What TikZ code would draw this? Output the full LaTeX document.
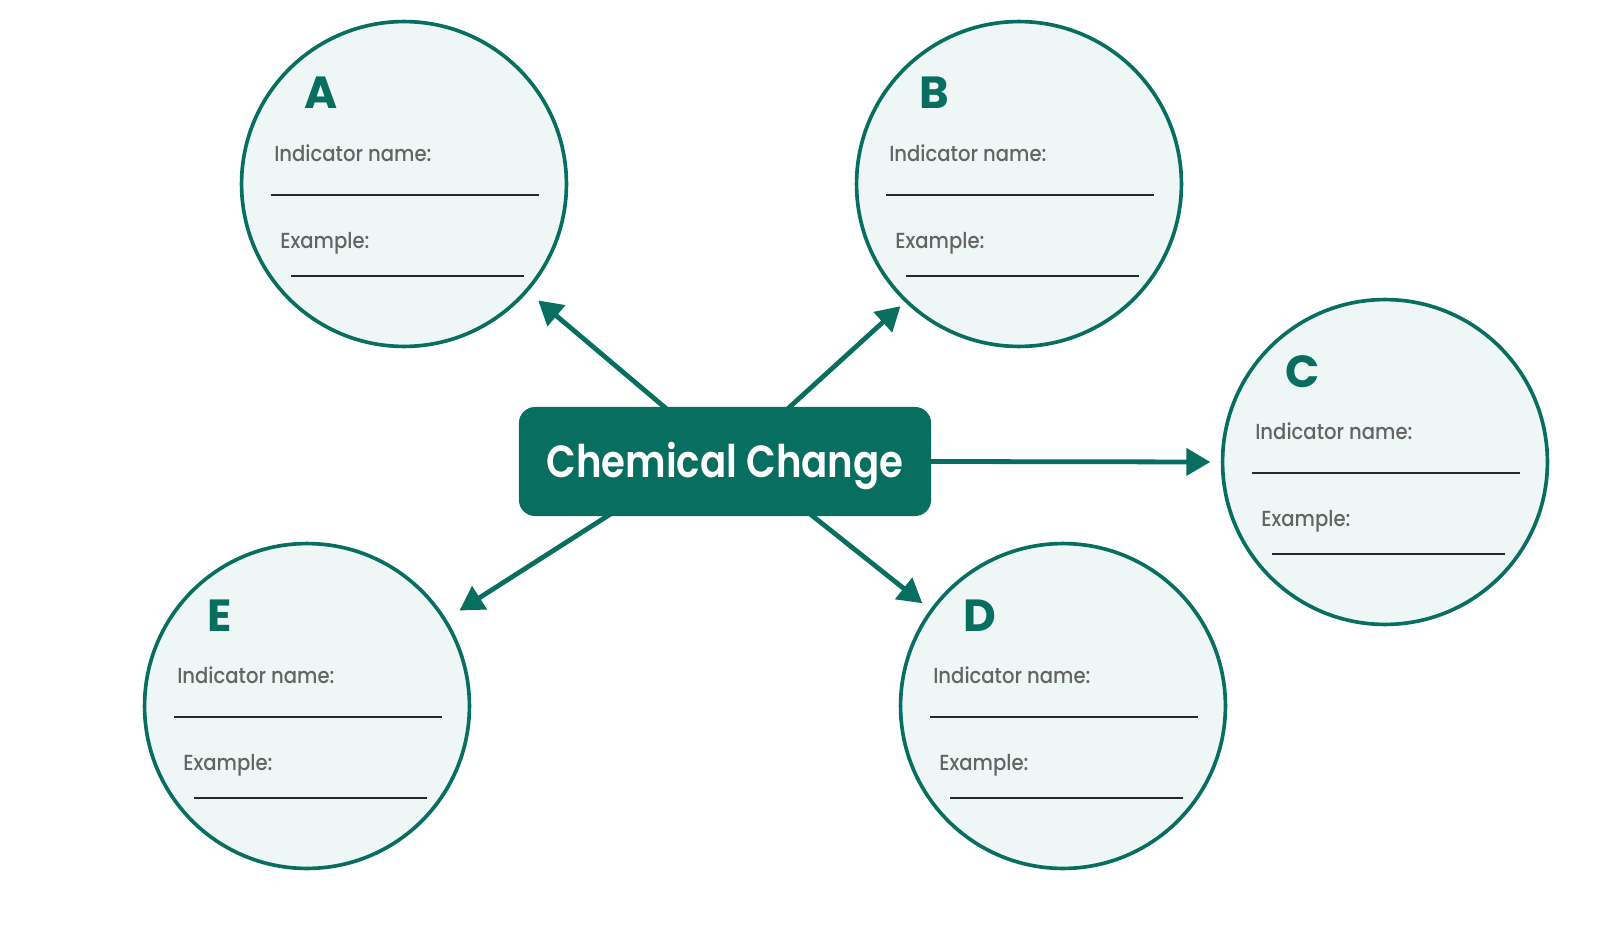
\documentclass[tikz,border=0pt]{standalone}
\usepackage{fontspec}
\setmainfont{Poppins}
\newfontfamily\hubfont{Poppins SemiBold}[FakeStretch=0.86]
\newfontfamily\fieldfont{Poppins Medium}[FakeStretch=0.9]
\usepackage{tikz}
\usetikzlibrary{arrows.meta, positioning, calc, backgrounds}
\usepackage{xcolor}
\definecolor{chemteal}{RGB}{8,110,96}
\definecolor{cardfill}{RGB}{238,246,246}
\definecolor{labelgray}{RGB}{100,100,100}
\definecolor{ruleblack}{RGB}{35,40,40}

\begin{document}
\begin{tikzpicture}[
    x=0.025cm, y=-0.025cm,
    card/.style={circle, draw=chemteal, line width=2.6pt, fill=cardfill,
                 minimum size=8.12cm, inner sep=0pt},
    hub/.style={rectangle, rounded corners=0.4cm, fill=chemteal, text=white,
                minimum width=10.3cm, minimum height=2.725cm, inner sep=0pt,
                text height=1.1cm, font=\fontsize{32}{40}\selectfont\hubfont},
    tag/.style={anchor=base west, inner sep=0pt, text=chemteal,
                font=\fontsize{32}{36}\selectfont\bfseries},
    field/.style={anchor=base west, inner sep=0pt, text=labelgray,
                  font=\fontsize{15.5}{18}\selectfont\fieldfont},
    rule/.style={ruleblack, line width=1.2pt},
    arr/.style={-{Triangle[length=17pt, width=19pt]}, line width=3.4pt, chemteal,
                shorten <=-0.3cm},
]
    \useasboundingbox (0,0) rectangle (1600,933);

    \node[hub] (chem) at (725,461.5) {Chemical Change};

    % answer cards
    \foreach \nm/\cx/\cy in {A/404/184, B/1019/184, C/1385/462, D/1063/706, E/307/706} {
        \node[card] (card\nm) at (\cx,\cy) {};
        \node[tag] (tag\nm) at ($(card\nm)+(-100,-75)$) {\nm};
        \node[field] (ind\nm) at ($(card\nm)+(-130,-23)$) {Indicator name:};
        \draw[rule] ($(card\nm)+(-133,11)$) -- ++(268,0);
        \node[field] (ex\nm) at ($(card\nm)+(-124,64)$) {Example:};
        \draw[rule] ($(card\nm)+(-113,92)$) -- ++(233,0);
    }

    \begin{scope}[on background layer]
        \draw[arr, shorten >=0.335cm] ([xshift=-1.525cm]chem.north) -- (cardA.-41.5);
        \draw[arr, shorten >=0.15cm] ([xshift=1.625cm]chem.north) -- (cardB.-134.8);
        \draw[arr, shorten >=0.26cm] (chem.east) -- (cardC.west);
        \draw[arr, shorten >=0.25cm] ([xshift=2.2cm]chem.south) -- (cardD.144.7);
        \draw[arr, shorten >=0.39cm] ([xshift=-2.95cm]chem.south) -- (cardE.32.8);
    \end{scope}
\end{tikzpicture}
\end{document}
